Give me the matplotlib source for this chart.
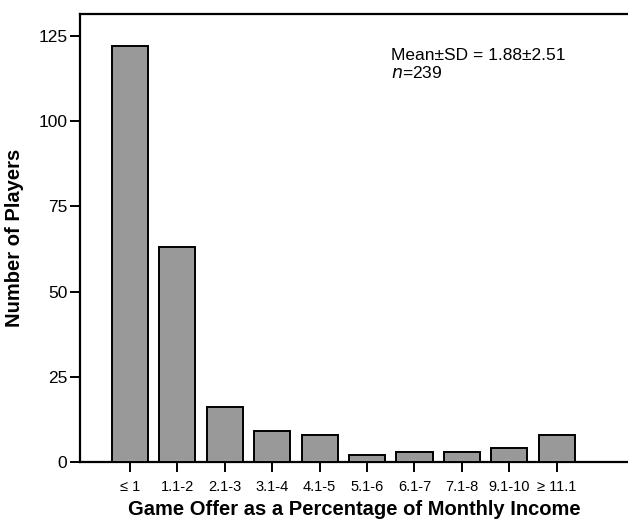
import matplotlib
matplotlib.use("Agg")
import matplotlib.pyplot as plt

plt.rcParams['font.family'] = ['Liberation Sans', 'DejaVu Sans']

categories = ["≤ 1", "1.1-2", "2.1-3", "3.1-4", "4.1-5", "5.1-6", "6.1-7", "7.1-8", "9.1-10", "≥ 11.1"]
counts = [122, 63, 16, 9, 8, 2, 3, 3, 4, 8]
yticks = [0, 25, 50, 75, 100, 125]

fig = plt.figure(figsize=(6.28, 5.25), dpi=100)
ax = fig.add_axes([80/628, 1-462/525, 548/628, (462-14)/525])

x = list(range(len(categories)))
ax.bar(x, counts, width=0.76, color='#999999', edgecolor='black', linewidth=1.4, zorder=3)

ax.set_xlim(-1.05, 10.5)
ax.set_ylim(0, 131.5)
ax.set_xticks(x)
ax.set_xticklabels(categories, fontsize=10.5)
ax.set_yticks(yticks)
ax.set_yticklabels([str(v) for v in yticks], fontsize=12.5)
ax.tick_params(axis='both', direction='out', length=7, width=1.4)
ax.tick_params(axis='x', pad=6)
ax.tick_params(axis='y', pad=2)
for s in ax.spines.values():
    s.set_linewidth(1.6)
ax.spines['right'].set_visible(False)

ax.set_xlabel("Game Offer as a Percentage of Monthly Income", fontsize=14.5, fontweight='bold', labelpad=4)
ax.set_ylabel("Number of Players", fontsize=14.5, fontweight='bold', labelpad=10)

ax.text(391/628, 1-55/525, "Mean±SD = 1.88±2.51", transform=fig.transFigure, fontsize=12.5, va='center', ha='left')
ax.text(391/628, 1-73/525, r"$\it{n}$=239", transform=fig.transFigure, fontsize=12.5, va='center', ha='left')

fig.savefig("out.png", dpi=100)
